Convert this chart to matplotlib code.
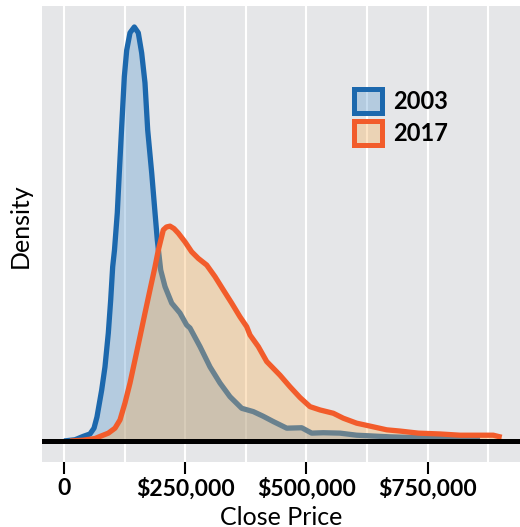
import numpy as np
import matplotlib
matplotlib.use("Agg")
import matplotlib.pyplot as plt
from matplotlib.patches import Patch
from matplotlib.ticker import FuncFormatter

# density curves (relative density, peak of 2003 ~ 1)
price_2003 = [0, 22700, 39200, 53600, 61900, 68000, 77700, 84500, 91400, 96300,
              100400, 104100, 109900, 114000, 118600, 124400, 129300, 136100, 145000, 153200,
              160200, 167000, 172600, 180900, 187700, 192400, 199400, 208300, 222100, 239200,
              253000, 259800, 280500, 301100, 321700, 342300, 366500, 390400, 410400, 431600,
              459300, 490200, 510800, 534700, 569200, 603600, 672300, 734200, 796000, 857900]
dens_2003 = [0.0, 0.003, 0.011, 0.017, 0.031, 0.058, 0.123, 0.179, 0.261, 0.341,
             0.421, 0.461, 0.551, 0.647, 0.751, 0.880, 0.944, 0.986, 1.0, 0.986,
             0.937, 0.865, 0.751, 0.647, 0.551, 0.486, 0.413, 0.373, 0.333, 0.309,
             0.280, 0.273, 0.228, 0.179, 0.140, 0.107, 0.079, 0.071, 0.060, 0.047,
             0.031, 0.032, 0.019, 0.020, 0.019, 0.014, 0.010, 0.008, 0.006, 0.004]

price_2017 = [12400, 39200, 63900, 74200, 91400, 105200, 115500, 125800, 136100, 146400,
              156700, 167000, 177300, 187700, 194500, 204800, 211400, 218600, 226900, 235700,
              249500, 263300, 277000, 294300, 311400, 328500, 345800, 362900, 376800, 383600,
              400700, 418000, 445400, 466100, 486700, 507300, 527900, 555400, 576000, 603600,
              631000, 665500, 692900, 730700, 775400, 816600, 857900, 885300, 902600]
dens_2017 = [0.0, 0.002, 0.006, 0.011, 0.019, 0.031, 0.051, 0.092, 0.140, 0.196,
             0.252, 0.309, 0.365, 0.421, 0.461, 0.510, 0.517, 0.519, 0.513, 0.502,
             0.481, 0.457, 0.441, 0.425, 0.397, 0.365, 0.333, 0.300, 0.276, 0.256,
             0.228, 0.192, 0.159, 0.131, 0.105, 0.083, 0.075, 0.067, 0.055, 0.043,
             0.036, 0.027, 0.024, 0.019, 0.017, 0.014, 0.014, 0.014, 0.009]

years = ["2003", "2017"]
major_ticks = [0, 250000, 500000, 750000]
minor_ticks = [125000, 375000, 625000, 875000]

line_cols = ["#1c68ad", "#f25c2b"]
fill_cols = [("#5999d1", 0.35), ("#f9b056", 0.35)]

plt.rcParams['font.family'] = ['Lato', 'DejaVu Sans']

fig = plt.figure(figsize=(5.2, 5.27), dpi=100)
ax = fig.add_axes([42/520, 1 - 461.7/527, 1 - 42/520, (461.7 - 6)/527])
ax.set_facecolor("#e5e6e8")

curves = [(price_2003, dens_2003), (price_2017, dens_2017)]
for i, (x, y) in enumerate(curves):
    fc, a = fill_cols[i]
    ax.fill_between(x, y, 0, color=fc, alpha=a, lw=0, zorder=2 + i)
    ax.plot(x, y, color=line_cols[i], lw=3.8, solid_capstyle='butt',
            solid_joinstyle='round', zorder=2 + i)

ax.axhline(0, color="black", lw=3.6, zorder=5)

ax.set_xlim(-45370, 940360)
ax.set_ylim(-20.7/414, 435/414)

ax.set_xticks(major_ticks)
ax.set_xticks(minor_ticks, minor=True)
ax.xaxis.set_major_formatter(FuncFormatter(lambda v, p: "0" if v == 0 else "${:,.0f}".format(v)))
ax.grid(True, axis="x", which="both", color="white", lw=1.5, zorder=0)
ax.set_axisbelow(True)
ax.set_yticks([])
ax.tick_params(axis="x", which="major", length=8.5, width=1.5, color="black", pad=3, labelsize=16.5)
ax.tick_params(axis="x", which="minor", length=0)
for lab in ax.get_xticklabels():
    lab.set_fontweight("bold")
for s in ax.spines.values():
    s.set_visible(False)

ax.set_xlabel("Close Price", fontsize=18, labelpad=4)
ax.set_ylabel("Density", fontsize=18)
ax.yaxis.set_label_coords(-0.021, 0.517)

handles = []
for i in range(2):
    fc, a = fill_cols[i]
    handles.append(Patch(facecolor=matplotlib.colors.to_rgba(fc, a), edgecolor=line_cols[i],
                         lw=3.6, label=years[i]))
leg = ax.legend(handles=handles, loc="upper left", bbox_to_anchor=(354/520, 1 - 89/527),
                bbox_transform=fig.transFigure, frameon=False, borderpad=0, borderaxespad=0,
                handlelength=1.2, handleheight=1.2, handletextpad=0.45, labelspacing=0.32,
                prop={"weight": "bold", "size": 17})

fig.savefig("out.png", dpi=100)
